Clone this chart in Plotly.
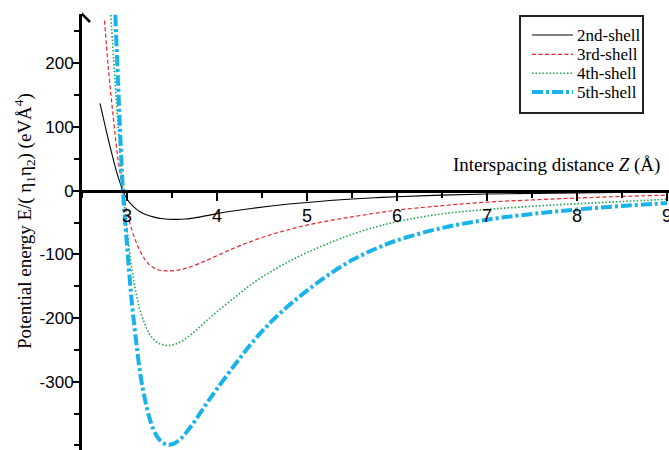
import plotly.graph_objects as go

# ---- data ----
z_2nd = [2.70, 2.76, 2.83, 2.90, 2.955, 3.00, 3.05, 3.10, 3.15, 3.20, 3.30, 3.40, 3.52, 3.65, 3.80, 4.00, 4.20, 4.40, 4.60, 4.80, 5.00, 5.25, 5.50, 5.75, 6.00, 6.50, 7.00, 7.50, 8.00, 8.50, 9.00]
e_2nd = [137, 100, 59, 22, 0, -13, -22, -28.5, -33.5, -37, -41.5, -44, -45, -44.5, -41.5, -36, -31.5, -27.5, -24, -21, -18.5, -15.5, -13, -11, -9.5, -7, -5.3, -4.2, -3.4, -2.8, -2.3]

z_3rd = [2.75, 2.79, 2.85, 2.90, 2.955, 3.00, 3.05, 3.10, 3.15, 3.20, 3.25, 3.30, 3.35, 3.40, 3.46, 3.54, 3.65, 3.80, 4.00, 4.20, 4.40, 4.60, 4.80, 5.00, 5.25, 5.50, 5.75, 6.00, 6.50, 7.00, 7.50, 8.00, 8.50, 9.00]
e_3rd = [267, 197, 112, 50, 0, -33, -60, -80, -96, -108, -116.5, -121.5, -124.5, -125.5, -126, -125.3, -122, -114.5, -102, -89.5, -78.5, -69, -61, -54, -47, -41, -35.5, -30.5, -23.5, -18, -14.5, -11.5, -9, -7]

z_4th = [2.82, 2.86, 2.895, 2.93, 2.955, 3.00, 3.05, 3.10, 3.15, 3.20, 3.25, 3.30, 3.35, 3.40, 3.46, 3.52, 3.60, 3.70, 3.80, 3.90, 4.00, 4.20, 4.40, 4.60, 4.80, 5.00, 5.25, 5.50, 5.75, 6.00, 6.50, 7.00, 7.50, 8.00, 8.50, 9.00]
e_4th = [276, 187, 114, 46, 0, -60, -120, -160, -190, -210, -225, -234, -239.5, -242, -243, -241.5, -237, -227, -215, -202, -190, -167, -145, -127, -111, -97, -82, -68.5, -57.5, -48.5, -36.5, -29.5, -24.5, -20.5, -17, -13.5]

z_5th = [2.87, 2.90, 2.93, 2.955, 3.00, 3.05, 3.10, 3.15, 3.20, 3.25, 3.30, 3.35, 3.40, 3.46, 3.52, 3.60, 3.70, 3.80, 3.90, 4.00, 4.20, 4.40, 4.60, 4.80, 5.00, 5.25, 5.50, 5.75, 6.00, 6.50, 7.00, 7.50, 8.00, 8.50, 9.00]
e_5th = [276, 172, 72, 0, -85, -170, -235, -290, -328, -357, -377, -389, -396, -399, -397, -389, -372, -352, -331, -311, -273, -237, -206, -180, -157, -131, -109, -92, -78, -58.5, -45.5, -36.5, -29.5, -24, -19.5]

names = ["2nd-shell", "3rd-shell", "4th-shell", "5th-shell"]
x_ticks = [3, 4, 5, 6, 7, 8, 9]
y_ticks = [-300, -200, -100, 0, 100, 200]
y_ticktext = ["-300", "-200", "-100", "0", "100", "200"]

# ---- layout constants ----
W, H = 669, 450
ML, MR, MT, MB = 82, 0, 14, 0
XR = [2.5, 9.022]
YR = [-407.1, 277.4]
pw = W - ML - MR
ph = H - MT - MB


def px(xp):
    return (xp - ML) / pw


def py(yp):
    return 1 - (yp - MT) / ph


styles = [
    dict(color="black", width=1.1, dash="solid"),
    dict(color="#E8262B", width=1.2, dash="4px,2.5px"),
    dict(color="#1BA548", width=1.6, dash="1.5px,2px"),
    dict(color="#19B3EC", width=4, dash="11px,3px,3px,3px"),
]

fig = go.Figure()
for zs, es, nm, st in zip([z_2nd, z_3rd, z_4th, z_5th], [e_2nd, e_3rd, e_4th, e_5th], names, styles):
    fig.add_trace(go.Scatter(x=zs, y=es, mode="lines", name=nm, showlegend=False,
                             line=dict(color=st["color"], width=st["width"], dash=st["dash"],
                                       shape="spline", smoothing=1.0)))

xpos = (0 - YR[0]) / (YR[1] - YR[0])

fig.update_layout(
    template="none",
    width=W, height=H,
    margin=dict(l=ML, r=MR, t=MT, b=MB, pad=0),
    plot_bgcolor="white", paper_bgcolor="white",
    showlegend=False,
    xaxis=dict(range=XR, anchor="free", position=xpos, showgrid=False, zeroline=False,
               showline=True, linecolor="black", linewidth=3,
               tickmode="array", tickvals=x_ticks, ticks="outside", ticklen=8, tickwidth=2,
               tickcolor="black", tickfont=dict(family="Liberation Sans", size=18, color="black"),
               ticklabeloverflow="allow",
               minor=dict(tick0=2.5, dtick=0.5, ticks="outside", ticklen=5, tickwidth=2, tickcolor="black"),
               automargin=False),
    yaxis=dict(range=YR, showgrid=False, zeroline=False, showline=True, linecolor="black", linewidth=3,
               tickmode="array", tickvals=y_ticks, ticktext=y_ticktext, ticks="outside", ticklen=6,
               tickwidth=2, tickcolor="black", ticklabelstandoff=-4,
               tickfont=dict(family="Liberation Sans", size=17, color="black"),
               minor=dict(tick0=0, dtick=50, ticks="outside", ticklen=5, tickwidth=2, tickcolor="black"),
               automargin=False),
)

# axis titles
fig.add_annotation(text="Interspacing distance <i>Z</i> (Å)", xref="paper", yref="paper",
                   x=px(662), y=py(165), xanchor="right", yanchor="middle",
                   showarrow=False, font=dict(family="Liberation Serif", size=19, color="black"))
fig.add_annotation(text="Potential energy E/( η<sub>1</sub>η<sub>2</sub>) (eVÅ<sup>4</sup>)",
                   xref="paper", yref="paper", x=px(24), y=py(221),
                   xanchor="center", yanchor="middle", textangle=-90, showarrow=False,
                   font=dict(family="Liberation Serif", size=19, color="black"))

# arrow head on the y axis
fig.add_shape(type="path", xref="x", yref="paper", xsizemode="pixel", ysizemode="pixel",
              xanchor=XR[0], yanchor=1.0, path="M-8,-8 L0,0 L8,-8",
              line=dict(color="black", width=2.5))

# legend box (drawn by hand to match the compact reference legend)
fig.add_shape(type="rect", xref="paper", yref="paper", x0=px(520), x1=px(643), y0=py(113), y1=py(16),
              line=dict(color="#222", width=2), fillcolor="white", layer="above")
leg_rows = [35, 54.3, 73.3, 92]
for nm, st, yr in zip(names, styles, leg_rows):
    fig.add_shape(type="line", xref="paper", yref="paper", x0=px(532), x1=px(573), y0=py(yr), y1=py(yr),
                  line=dict(color=st["color"], width=st["width"], dash=st["dash"]), layer="above")
    fig.add_annotation(text=nm, xref="paper", yref="paper", x=px(575), y=py(yr), xanchor="left",
                       yanchor="middle", showarrow=False,
                       font=dict(family="Liberation Serif", size=17, color="black"))

fig.write_html("out.html")
